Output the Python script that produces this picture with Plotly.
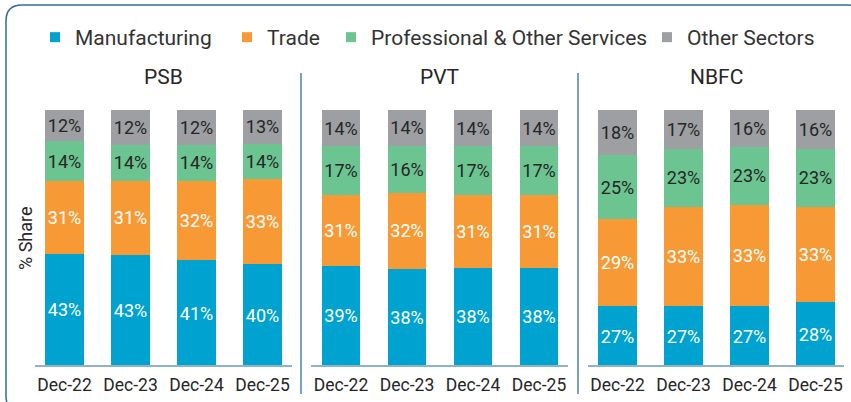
import plotly.graph_objects as go

# ---------------- data ----------------
periods = ["Dec-22", "Dec-23", "Dec-24", "Dec-25"]
panels = ["PSB", "PVT", "NBFC"]
series_names = ["Manufacturing", "Trade", "Professional & Other Services", "Other Sectors"]

# printed labels (%)
psb_labels = {
    "Manufacturing": [43, 43, 41, 40],
    "Trade": [31, 31, 32, 33],
    "Professional & Other Services": [14, 14, 14, 14],
    "Other Sectors": [12, 12, 12, 13],
}
pvt_labels = {
    "Manufacturing": [39, 38, 38, 38],
    "Trade": [31, 32, 31, 31],
    "Professional & Other Services": [17, 16, 17, 17],
    "Other Sectors": [14, 14, 14, 14],
}
nbfc_labels = {
    "Manufacturing": [27, 27, 27, 28],
    "Trade": [29, 33, 33, 33],
    "Professional & Other Services": [25, 23, 23, 23],
    "Other Sectors": [18, 17, 16, 16],
}

# bar segment heights as drawn in the picture (%)
psb_heights = {
    "Manufacturing": [43.8, 43.4, 41.4, 39.8],
    "Trade": [28.5, 28.9, 30.9, 33.2],
    "Professional & Other Services": [15.5, 14.1, 14.1, 13.8],
    "Other Sectors": [12.2, 13.6, 13.6, 13.2],
}
pvt_heights = {
    "Manufacturing": [39.2, 37.9, 38.4, 38.4],
    "Trade": [27.6, 29.7, 28.4, 28.4],
    "Professional & Other Services": [19.1, 18.4, 19.1, 19.1],
    "Other Sectors": [14.1, 14.0, 14.1, 14.1],
}
nbfc_heights = {
    "Manufacturing": [23.4, 23.4, 23.4, 25.0],
    "Trade": [34.0, 38.7, 39.5, 37.1],
    "Professional & Other Services": [25.0, 22.7, 22.7, 22.7],
    "Other Sectors": [17.6, 15.2, 14.4, 15.2],
}

# ---------------- styles ----------------
colors = {
    "Manufacturing": "#00A3D0",
    "Trade": "#F79A36",
    "Professional & Other Services": "#6CC491",
    "Other Sectors": "#9D9FA2",
}
text_colors = {
    "Manufacturing": "#FFFFFF",
    "Trade": "#FFFFFF",
    "Professional & Other Services": "#262626",
    "Other Sectors": "#262626",
}
FONT = "Roboto"
W_FIG, H_FIG = 851, 402
ML, MR, MT, MB = 31, 2, 110, 36
PW = W_FIG - ML - MR
PH = H_FIG - MT - MB


def px(x):
    return (x - ML) / PW


def py(y):
    return (H_FIG - MB - y) / PH


domains = [[px(31.5), px(295.5)], [px(308), px(572)], [px(584.5), px(848.5)]]
baselines = [(35, 292), (311, 568), (588, 844)]

fig = go.Figure()

data_sets = [(psb_heights, psb_labels), (pvt_heights, pvt_labels), (nbfc_heights, nbfc_labels)]
for i, (hts, lbls) in enumerate(data_sets):
    ax = "" if i == 0 else str(i + 1)
    for s in series_names:
        fig.add_trace(go.Bar(
            x=periods, y=hts[s], name=s,
            text=[f"{v}%" for v in lbls[s]],
            textposition="inside", insidetextanchor="middle",
            constraintext="none", textangle=0,
            textfont=dict(family=FONT, size=18, color=text_colors[s]),
            marker=dict(color=colors[s], line=dict(width=0)),
            width=0.59, showlegend=False,
            xaxis="x" + ax, yaxis="y" + ax,
            hoverinfo="skip",
        ))

# legend entries (one legend per entry for precise placement)
legend_starts = [35, 227, 331, 647]
for k, s in enumerate(series_names):
    lg = "legend" if k == 0 else f"legend{k + 1}"
    fig.add_trace(go.Scatter(
        x=[None], y=[None], mode="markers", name=s,
        marker=dict(symbol="square", size=10, color=colors[s]),
        showlegend=True, legend=lg, xaxis="x", yaxis="y",
    ))

layout = dict(
    width=W_FIG, height=H_FIG,
    margin=dict(l=ML, r=MR, t=MT, b=MB),
    paper_bgcolor="white", plot_bgcolor="white",
    barmode="stack",
    font=dict(family=FONT, color="#333333"),
    showlegend=True,
)
for k in range(4):
    lg = "legend" if k == 0 else f"legend{k + 1}"
    layout[lg] = dict(
        x=px(legend_starts[k]), xanchor="left",
        y=py(37.5), yanchor="middle",
        orientation="h", bgcolor="rgba(0,0,0,0)",
        font=dict(family=FONT, size=21, color="#333333"),
    )

for i in range(3):
    ax = "" if i == 0 else str(i + 1)
    layout["xaxis" + ax] = dict(
        domain=domains[i], anchor="y" + ax, type="category",
        range=[-0.5, 3.5], showgrid=False, zeroline=False,
        showline=False,
        ticks="", ticklabelstandoff=6,
        tickfont=dict(family=FONT, size=17.5, color="#262626"),
        fixedrange=True,
    )
    layout["yaxis" + ax] = dict(
        domain=[0, 1], anchor="x" + ax, range=[0, 100],
        showgrid=False, zeroline=False, showline=False,
        showticklabels=False, ticks="", fixedrange=True,
    )
fig.update_layout(**layout)

# baselines
for x0, x1 in baselines:
    fig.add_shape(
        type="line", xref="paper", yref="paper",
        x0=px(x0), x1=px(x1), y0=0, y1=0,
        line=dict(color="#8DB2C9", width=2), layer="above",
    )

# panel titles
for i, name in enumerate(panels):
    fig.add_annotation(
        x=px((baselines[i][0] + baselines[i][1]) / 2), y=py(77),
        xref="paper", yref="paper", text=name, showarrow=False,
        xanchor="center", yanchor="middle",
        font=dict(family=FONT, size=21, color="#262626"),
    )

# y-axis title
fig.add_annotation(
    x=px(25), y=py(238), xref="paper", yref="paper",
    text="% Share", textangle=-90, showarrow=False,
    xanchor="center", yanchor="middle",
    font=dict(family=FONT, size=18, color="#262626"),
)

# separators
for sx in (301, 578):
    fig.add_shape(
        type="line", xref="paper", yref="paper",
        x0=px(sx), x1=px(sx), y0=py(73), y1=py(394),
        line=dict(color="#4A84A8", width=1.5),
    )

# rounded outer border
bl, bt, br, bb, r = 6, 5, 864, 412, 16


def P(x, y):
    return f"{px(x):.5f},{py(y):.5f}"


path = (
    f"M {P(bl, bt + r)} Q {P(bl, bt)} {P(bl + r, bt)} "
    f"L {P(br - r, bt)} Q {P(br, bt)} {P(br, bt + r)} "
    f"L {P(br, bb - r)} Q {P(br, bb)} {P(br - r, bb)} "
    f"L {P(bl + r, bb)} Q {P(bl, bb)} {P(bl, bb - r)} Z"
)
fig.add_shape(type="path", xref="paper", yref="paper", path=path,
              line=dict(color="#2F6F94", width=1.5))

fig.write_html(
    "out.html",
    config={"displayModeBar": False},
    post_script="document.body.style.margin='0';document.body.style.padding='0';",
)
